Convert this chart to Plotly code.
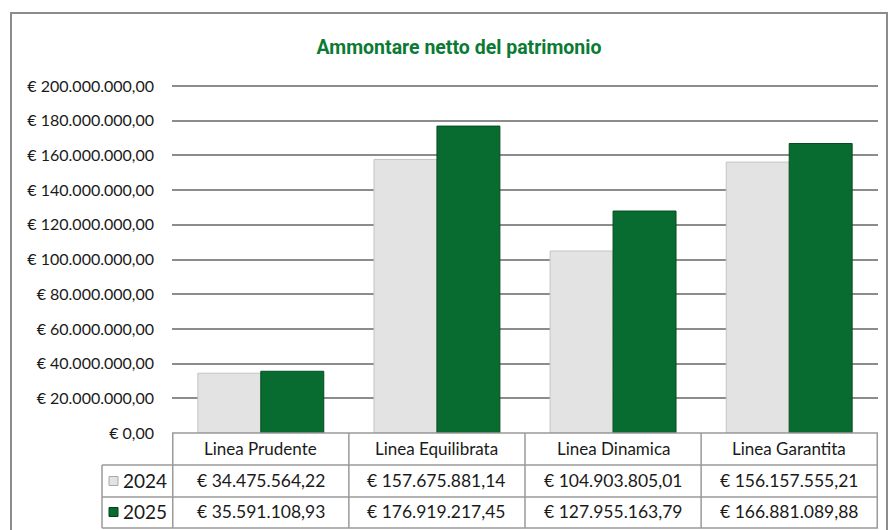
import plotly.graph_objects as go

categories = ["Linea Prudente", "Linea Equilibrata", "Linea Dinamica", "Linea Garantita"]
series_names = ["2024", "2025"]
values_2024 = [34475564.22, 157675881.14, 104903805.01, 156157555.21]
values_2025 = [35591108.93, 176919217.45, 127955163.79, 166881089.88]
y_ticks = [0, 20e6, 40e6, 60e6, 80e6, 100e6, 120e6, 140e6, 160e6, 180e6, 200e6]
title_text = "Ammontare netto del patrimonio"


def fmt_eur(v):
    s = f"{v:,.2f}"
    s = s.replace(",", "X").replace(".", ",").replace("X", ".")
    return "€ " + s


W, H = 891, 530
L, R, T, B = 172, 878, 86, 433
Y_MAX = 200e6
Y_TOP = 200.6e6  # small headroom so the top gridline is drawn
plot_h = (B - T) * Y_TOP / Y_MAX
T_MARGIN = B - plot_h


def py(ypx):
    return (B - ypx) / plot_h


def px(xpx):
    return (xpx - L) / (R - L)


GRAY = "#e3e3e3"
GREEN = "#086b2f"
LINE = "#9a9a9a"
TXT = "#1a1a1a"
FONT = "Lato, 'Open Sans', sans-serif"

fig = go.Figure()
fig.add_trace(go.Bar(x=categories, y=values_2024, name=series_names[0],
                     marker=dict(color=GRAY, line=dict(color="#c4c4c4", width=1))))
fig.add_trace(go.Bar(x=categories, y=values_2025, name=series_names[1],
                     marker=dict(color=GREEN, line=dict(color="#064d22", width=1))))

shapes = []
shapes.append(dict(type="rect", xref="paper", yref="paper", x0=px(11), x1=px(887),
                   y0=py(545), y1=py(13), line=dict(color="#8c8c8c", width=2), layer="below"))
for ypix, x0pix in [(433, L), (465, 102), (497, 102), (528, 102)]:
    shapes.append(dict(type="line", xref="paper", yref="paper", x0=px(x0pix), x1=px(R),
                       y0=py(ypix), y1=py(ypix), line=dict(color=LINE, width=1.5)))
n = len(categories)
for i in range(n + 1):
    shapes.append(dict(type="line", xref="x", yref="paper", x0=i - 0.5, x1=i - 0.5,
                       y0=py(433), y1=py(528), line=dict(color=LINE, width=1.5)))
shapes.append(dict(type="line", xref="paper", yref="paper", x0=px(102), x1=px(102),
                   y0=py(465), y1=py(528), line=dict(color=LINE, width=1.5)))
row_y = [481, 512]
key_cols = [(GRAY, "#a8a8a8"), (GREEN, "#05401c")]
for (fc, lc), yc in zip(key_cols, row_y):
    shapes.append(dict(type="rect", xref="paper", yref="paper", x0=px(109), x1=px(118),
                       y0=py(yc + 4.5), y1=py(yc - 4.5), fillcolor=fc, line=dict(color=lc, width=1)))

annotations = []
for i, c in enumerate(categories):
    annotations.append(dict(x=i, y=py(449), xref="x", yref="paper", text=c, showarrow=False,
                            font=dict(family=FONT, size=17, color=TXT), xanchor="center", yanchor="middle"))
for name, vals, yc in zip(series_names, [values_2024, values_2025], row_y):
    annotations.append(dict(x=px(145), y=py(yc), xref="paper", yref="paper", text=name, showarrow=False,
                            font=dict(family=FONT, size=19, color=TXT), xanchor="center", yanchor="middle"))
    for i, v in enumerate(vals):
        annotations.append(dict(x=i, y=py(yc), xref="x", yref="paper", text=fmt_eur(v), showarrow=False,
                                font=dict(family=FONT, size=17.5, color=TXT), xanchor="center", yanchor="middle"))

fig.update_layout(
    width=W, height=H,
    margin=dict(l=L, r=W - R, t=T_MARGIN, b=H - B),
    paper_bgcolor="white", plot_bgcolor="white",
    barmode="group", bargap=0.285, bargroupgap=0.0,
    showlegend=False,
    title=dict(text="<b>" + title_text + "</b>", xref="container", yref="container",
               x=459 / W, y=1 - 47 / H, xanchor="center", yanchor="middle",
               font=dict(family="Roboto, sans-serif", size=19.5, color="#0b7a34")),
    xaxis=dict(showticklabels=False, showgrid=False, showline=False, zeroline=False, ticks=""),
    yaxis=dict(range=[0, Y_TOP], tickvals=y_ticks, ticktext=[fmt_eur(v) for v in y_ticks],
               showgrid=True, gridcolor="#8c8c8c", gridwidth=1.5, zeroline=False, showline=False,
               ticks="", ticklabelstandoff=17,
               tickfont=dict(family=FONT, size=16, color=TXT)),
    shapes=shapes,
    annotations=annotations,
)

fig.write_html("out.html", config={"displayModeBar": False},
               post_script="document.body.style.margin='0';document.body.style.overflow='hidden';")
